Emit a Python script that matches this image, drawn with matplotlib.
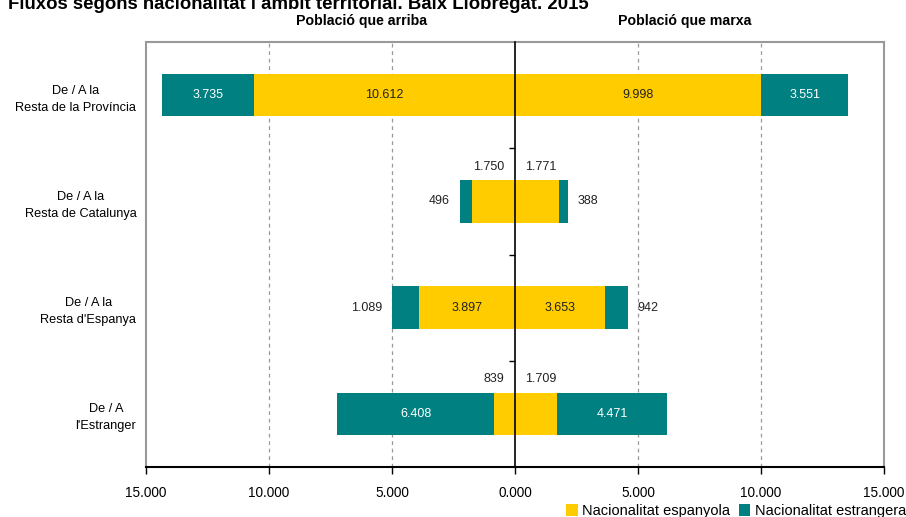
import matplotlib
matplotlib.use("Agg")
import matplotlib.pyplot as plt
from matplotlib.patches import Patch
import numpy as np

categories = ["De / A la\nResta de la Província", "De / A la\nResta de Catalunya",
              "De / A la\nResta d'Espanya", "De / A\nl'Estranger"]
arriba_espanyola = [10612, 1750, 3897, 839]
arriba_estrangera = [3735, 496, 1089, 6408]
marxa_espanyola = [9998, 1771, 3653, 1709]
marxa_estrangera = [3551, 388, 942, 4471]
xticks = [-15000, -10000, -5000, 0, 5000, 10000, 15000]
xticklabels = ["15.000", "10.000", "5.000", "0.000", "5.000", "10.000", "15.000"]

YELLOW = "#FFCC00"
TEAL = "#008080"
plt.rcParams['font.family'] = ['Liberation Sans', 'DejaVu Sans']
NARROW = ['Liberation Sans Narrow', 'Liberation Sans', 'DejaVu Sans']

def fmt(v):
    return f"{v:,}".replace(",", ".")

fig = plt.figure(figsize=(9.06, 5.17), dpi=100)
L, R, T, B = 146/906, 884/906, 1-42/517, 1-467/517
ax = fig.add_axes([L, B, R-L, T-B])
y = np.arange(len(categories))
h = 0.40

ae = -np.array(arriba_espanyola)
aex = -np.array(arriba_estrangera)
ax.barh(y, ae, height=h, color=YELLOW, zorder=3)
ax.barh(y, aex, left=ae, height=h, color=TEAL, zorder=3)
ax.barh(y, marxa_espanyola, height=h, color=YELLOW, zorder=3)
ax.barh(y, marxa_estrangera, left=marxa_espanyola, height=h, color=TEAL, zorder=3)

ax.set_xlim(-15000, 15000)
ax.set_ylim(3.5, -0.5)
ax.set_xticks(xticks)
ax.set_xticklabels(xticklabels, fontsize=9.8)
ax.set_yticks(y)
ax.set_yticklabels(categories, fontsize=9.2, multialignment='center', linespacing=1.55)
ax.tick_params(axis='y', length=0, pad=7)
ax.tick_params(axis='x', length=5, width=1, direction='out', pad=9, color='black')
for v in [-10000, -5000, 5000, 10000]:
    ax.axvline(v, color='#999999', lw=0.9, ls=(0, (3, 3)), zorder=1)
for s in ['top', 'right']:
    ax.spines[s].set_color('#999999')
    ax.spines[s].set_linewidth(1.5)
ax.spines['left'].set_color('#999999')
ax.spines['left'].set_linewidth(1.5)
ax.spines['left'].set_linestyle((0, (2, 1)))
ax.spines['bottom'].set_color('black')
ax.spines['bottom'].set_linewidth(1.5)

# center axis with boundary ticks
ax2 = fig.add_axes([L, B, R-L, T-B])
ax2.patch.set_visible(False)
ax2.set_xlim(-15000, 15000)
ax2.set_ylim(3.5, -0.5)
for s in ['top', 'right', 'bottom']:
    ax2.spines[s].set_visible(False)
ax2.spines['left'].set_position(('data', 0))
ax2.spines['left'].set_color('black')
ax2.spines['left'].set_linewidth(1.2)
ax2.set_xticks([])
ax2.set_yticks(y[:-1] + 0.5)
ax2.set_yticklabels([])
ax2.tick_params(axis='y', length=4, direction='out', width=1)
ax2.set_zorder(4)

# labels
inside = {0: [True, True, True, True], 1: [False, False, False, False],
          2: [True, False, True, False], 3: [False, True, False, True]}
for i in range(len(categories)):
    a_es, a_ex, m_es, m_ex = arriba_espanyola[i], arriba_estrangera[i], marxa_espanyola[i], marxa_estrangera[i]
    fl = inside[i]
    if fl[0]:
        ax.text(-a_es/2, i, fmt(a_es), ha='center', va='center', fontsize=9, color='#222222', zorder=6)
    else:
        ax.annotate(fmt(a_es), (0, i), xytext=(-8, 25), textcoords='offset points',
                    ha='right', va='center', fontsize=9, color='#222222')
    if fl[1]:
        ax.text(-a_es - a_ex/2, i, fmt(a_ex), ha='center', va='center', fontsize=9, color='white', zorder=6)
    else:
        ax.annotate(fmt(a_ex), (-a_es - a_ex, i), xytext=(-7, 0), textcoords='offset points',
                    ha='right', va='center', fontsize=9, color='#222222')
    if fl[2]:
        ax.text(m_es/2, i, fmt(m_es), ha='center', va='center', fontsize=9, color='#222222', zorder=6)
    else:
        ax.annotate(fmt(m_es), (0, i), xytext=(7, 25), textcoords='offset points',
                    ha='left', va='center', fontsize=9, color='#222222')
    if fl[3]:
        ax.text(m_es + m_ex/2, i, fmt(m_ex), ha='center', va='center', fontsize=9, color='white', zorder=6)
    else:
        ax.annotate(fmt(m_ex), (m_es + m_ex, i), xytext=(7, 0), textcoords='offset points',
                    ha='left', va='center', fontsize=9, color='#222222')

fig.text(8/906, 1-9/517, "Fluxos segons nacionalitat i àmbit territorial. Baix Llobregat. 2015",
         fontsize=13.4, fontweight='bold', family=NARROW, ha='left', va='baseline')
fig.text(362/906, 1-21/517, "Població que arriba", fontsize=10.2, fontweight='bold',
         family=NARROW, ha='center', va='center')
fig.text(685/906, 1-21/517, "Població que marxa", fontsize=10.2, fontweight='bold',
         family=NARROW, ha='center', va='center')

handles = [Patch(facecolor=YELLOW, label="Nacionalitat espanyola"),
           Patch(facecolor=TEAL, label="Nacionalitat estrangera")]
fig.legend(handles=handles, loc='center', bbox_to_anchor=(736/906, 1-511/517), ncol=2,
           frameon=False, fontsize=10.5, handlelength=0.8, handleheight=0.8,
           handletextpad=0.3, columnspacing=0.6, borderpad=0)

fig.savefig("out.png", dpi=100)
